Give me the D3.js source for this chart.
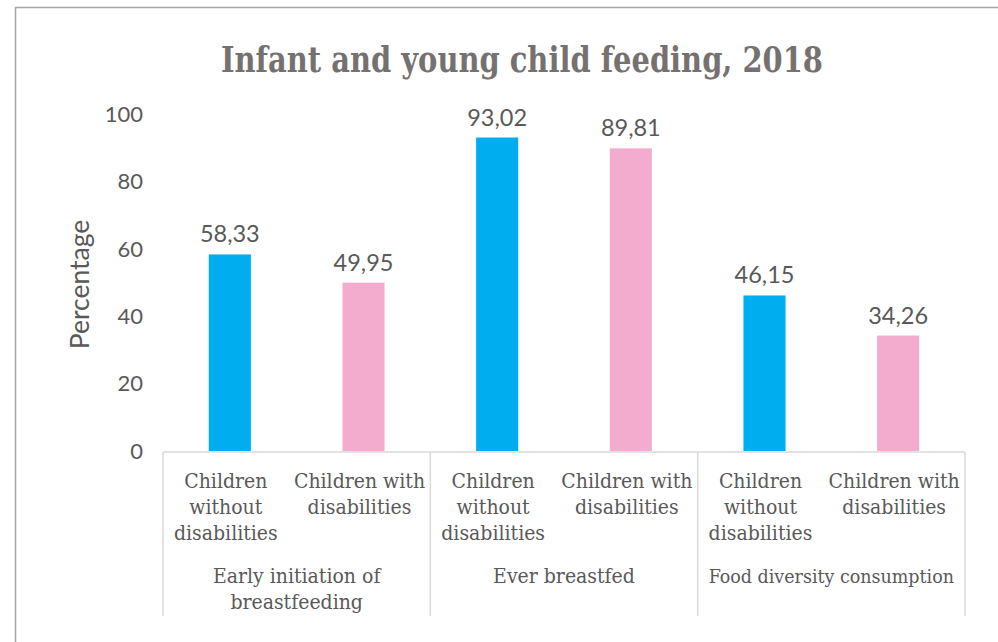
<!DOCTYPE html>
<html>
<head>
<meta charset="utf-8">
<script src="https://cdn.jsdelivr.net/npm/d3@7"></script>
<style>
  body { margin: 0; background: #fff; }
  .tick-label { font-family: Lato, sans-serif; font-size: 22px; fill: #595959; }
  .value-label { font-family: Lato, sans-serif; font-size: 23.5px; fill: #595959; }
  .cat-label { font-family: "DejaVu Serif Condensed", "DejaVu Serif", serif; font-size: 21px; fill: #595959; }
</style>
</head>
<body>
<svg class="chart"></svg>
<script>
var groups = ["Early initiation of breastfeeding", "Ever breastfed", "Food diversity consumption"];
var groupLines = [["Early initiation of", "breastfeeding"], ["Ever breastfed"], ["Food diversity consumption"]];
var series = ["Children without disabilities", "Children with disabilities"];
var seriesLines = [["Children", "without", "disabilities"], ["Children with", "disabilities"]];
var withoutDisabilities = [58.33, 93.02, 46.15];
var withDisabilities = [49.95, 89.81, 34.26];
var yTicks = [0, 20, 40, 60, 80, 100];

var width = 998, height = 642;
var colors = ["#00aeef", "#f4acce"];

var svg = d3.select(".chart")
    .attr("width", width)
    .attr("height", height);

// outer frame (only left and top edges visible)
svg.append("path")
    .attr("d", "M15.5,642 V7.5 H998")
    .attr("fill", "none")
    .attr("stroke", "#a6a6a6")
    .attr("stroke-width", 1.5);

var x0 = d3.scaleBand()
    .domain(groups)
    .range([163, 965]);

var x1 = d3.scaleBand()
    .domain(series)
    .range([0, x0.bandwidth()])
    .paddingInner(0.685)
    .paddingOuter(0.3425);

var y = d3.scaleLinear()
    .domain([0, 100])
    .range([451, 114]);

// title
svg.append("text")
    .attr("x", 522)
    .attr("y", 72)
    .attr("text-anchor", "middle")
    .attr("textLength", 602)
    .attr("lengthAdjust", "spacingAndGlyphs")
    .style("font-family", "'DejaVu Serif Condensed', 'DejaVu Serif', serif")
    .style("font-weight", "bold")
    .style("font-size", "35px")
    .style("fill", "#767171")
    .text("Infant and young child feeding, 2018");

// y tick labels
svg.selectAll(".tick-label")
    .data(yTicks)
  .enter().append("text")
    .attr("class", "tick-label")
    .attr("x", 143)
    .attr("y", function(d) { return y(d); })
    .attr("dy", "0.35em")
    .attr("text-anchor", "end")
    .text(function(d) { return d; });

// y axis title
svg.append("text")
    .attr("transform", "translate(89," + (y(50) + 2) + ") rotate(-90)")
    .attr("text-anchor", "middle")
    .style("font-family", "Lato, sans-serif")
    .style("font-size", "26.5px")
    .style("fill", "#595959")
    .text("Percentage");

var rows = groups.map(function(g, i) {
  return { group: g, values: [withoutDisabilities[i], withDisabilities[i]] };
});

var groupSel = svg.selectAll(".group")
    .data(rows)
  .enter().append("g")
    .attr("class", "group")
    .attr("transform", function(d) { return "translate(" + x0(d.group) + ",0)"; });

groupSel.selectAll("rect")
    .data(function(d) { return d.values.map(function(v, j) { return { s: series[j], v: v, j: j }; }); })
  .enter().append("rect")
    .attr("x", function(d) { return x1(d.s); })
    .attr("width", x1.bandwidth())
    .attr("y", function(d) { return y(d.v); })
    .attr("height", function(d) { return y(0) - y(d.v); })
    .attr("fill", function(d) { return colors[d.j]; });

groupSel.selectAll(".value-label")
    .data(function(d) { return d.values.map(function(v, j) { return { s: series[j], v: v }; }); })
  .enter().append("text")
    .attr("class", "value-label")
    .attr("x", function(d) { return x1(d.s) + x1.bandwidth() / 2; })
    .attr("y", function(d) { return y(d.v) - 12; })
    .attr("text-anchor", "middle")
    .text(function(d) { return d3.format(".2f")(d.v).replace(".", ","); });

// category axis box
var axisColor = "#d9d9d9";
svg.append("line")
    .attr("x1", x0.range()[0]).attr("x2", x0.range()[1])
    .attr("y1", 452).attr("y2", 452)
    .attr("stroke", axisColor).attr("stroke-width", 1.5);

var dividers = groups.map(function(g) { return x0(g); }).concat([x0.range()[1]]);
svg.selectAll(".divider")
    .data(dividers)
  .enter().append("line")
    .attr("class", "divider")
    .attr("x1", function(d) { return d; }).attr("x2", function(d) { return d; })
    .attr("y1", 452).attr("y2", 616)
    .attr("stroke", axisColor).attr("stroke-width", 1.5);

// series labels under each bar
groupSel.each(function(d) {
  var g = d3.select(this);
  series.forEach(function(s, j) {
    var cx = x1(s) + x1.bandwidth() / 2 - 4;
    var t = g.append("text")
        .attr("class", "cat-label")
        .attr("text-anchor", "middle")
        .attr("x", cx)
        .attr("y", 488);
    seriesLines[j].forEach(function(line, k) {
      t.append("tspan")
          .attr("x", cx)
          .attr("dy", k === 0 ? 0 : 26)
          .text(line);
    });
  });
});

// group labels, shrunk to fit the band if needed
groupSel.each(function(d, i) {
  var t = d3.select(this).append("text")
      .attr("class", "cat-label")
      .attr("text-anchor", "middle")
      .attr("x", x0.bandwidth() / 2)
      .attr("y", 583);
  groupLines[i].forEach(function(line, k) {
    t.append("tspan")
        .attr("x", x0.bandwidth() / 2)
        .attr("dy", k === 0 ? 0 : 26)
        .text(line);
  });
  var w = t.node().getBBox().width, maxW = x0.bandwidth() - 22;
  if (w > maxW) t.style("font-size", (21 * maxW / w) + "px");
});
</script>
</body>
</html>
